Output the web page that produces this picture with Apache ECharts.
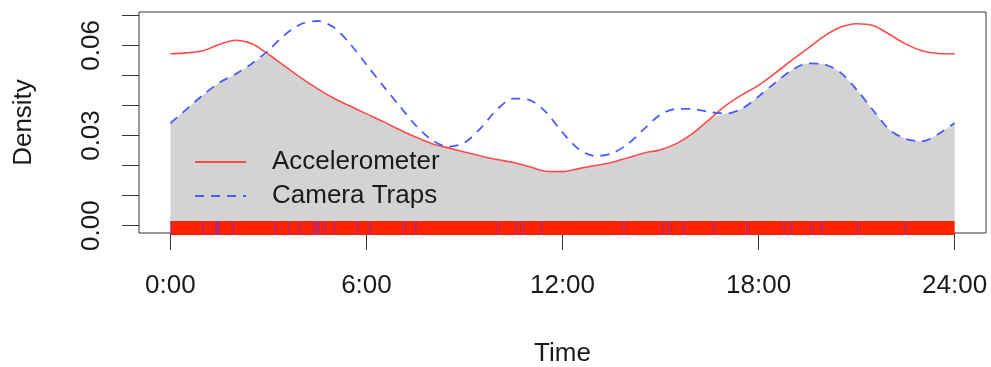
<!DOCTYPE html>
<html>
<head>
<meta charset="utf-8">
<script src="https://cdn.jsdelivr.net/npm/echarts@6/dist/echarts.min.js"></script>
<style>
html,body{margin:0;padding:0;background:#fff;}
#chart{width:991px;height:367px;}
</style>
</head>
<body>
<div id="chart"></div>
<script>
// ---- data ----
const hours = [0,0.5,1,1.5,2,2.5,3,3.5,4,4.5,5,5.5,6,6.5,7,7.5,8,8.5,9,9.5,10,10.5,11,11.5,12,12.5,13,13.5,14,14.5,15,15.5,16,16.5,17,17.5,18,18.5,19,19.5,20,20.5,21,21.5,22,22.5,23,23.5,24];
const accelerometer = [0.0572,0.0575,0.0582,0.0603,0.0617,0.0605,0.0570,0.0531,0.0492,0.0456,0.0424,0.0398,0.0372,0.0347,0.0320,0.0295,0.0273,0.0259,0.0245,0.0232,0.0220,0.0210,0.0196,0.0181,0.0180,0.0190,0.0200,0.0210,0.0226,0.0242,0.0253,0.0274,0.0308,0.0354,0.0400,0.0436,0.0467,0.0507,0.0549,0.0589,0.0630,0.0660,0.0672,0.0666,0.0637,0.0605,0.0582,0.0573,0.0572];
const cameraTraps = [0.0341,0.0388,0.0435,0.0476,0.0505,0.0540,0.0583,0.0635,0.0671,0.0681,0.0660,0.0605,0.0536,0.0467,0.0400,0.0335,0.0285,0.0263,0.0276,0.0325,0.0387,0.0423,0.0418,0.0377,0.0310,0.0254,0.0232,0.0240,0.0272,0.0322,0.0370,0.0389,0.0388,0.0378,0.0373,0.0390,0.0430,0.0475,0.0516,0.0540,0.0537,0.0510,0.0453,0.0385,0.0320,0.0289,0.0281,0.0305,0.0342];
const cameraRug = [0.02,1.00,1.39,1.43,1.49,1.90,3.22,3.63,3.96,4.39,4.47,4.54,4.70,5.03,5.73,6.10,7.14,7.51,10.03,10.59,10.77,11.36,13.88,15.07,15.28,15.71,16.63,17.64,18.78,19.00,19.63,19.95,21.04,22.49];
const accelRugRange = [0, 24];
const xTickValues = [0,6,12,18,24];
const xTickLabels = ['0:00','6:00','12:00','18:00','24:00'];
const yTickValues = [0,0.01,0.02,0.03,0.04,0.05,0.06,0.07];
const yLabelValues = [0,0.03,0.06];
const seriesNames = ['Accelerometer','Camera Traps'];

// ---- build ----
const accelData = hours.map((h,i)=>[h,accelerometer[i]]);
const camData = hours.map((h,i)=>[h,cameraTraps[i]]);
const overlapData = hours.map((h,i)=>[h,Math.min(accelerometer[i],cameraTraps[i])]);
const FONT = '"Liberation Sans", Arial, Helvetica, sans-serif';
const TXT = '#1a1a1a';

const chart = echarts.init(document.getElementById('chart'), null, {renderer:'canvas'});
chart.setOption({
  animation:false,
  backgroundColor:'#ffffff',
  textStyle:{fontFamily:FONT},
  grid:{left:139, top:12, width:847, height:221, show:true, borderColor:'#333', borderWidth:1,
    backgroundColor:'transparent', containLabel:false, outerBoundsMode:'none'},
  legend:{
    orient:'vertical', left:189, top:144, itemWidth:51, itemHeight:14, itemGap:8,
    data:seriesNames, textStyle:{fontSize:26, color:TXT, fontFamily:FONT, padding:[0,0,0,21]},
    itemStyle:{opacity:0, borderWidth:0},
    selectedMode:false
  },
  xAxis:{
    type:'value', min:-0.96, max:24.96,
    name:'Time', nameLocation:'middle', nameGap:108,
    nameTextStyle:{fontSize:26, color:TXT, fontFamily:FONT},
    axisLine:{show:false, onZero:false},
    splitLine:{show:false},
    axisTick:{show:true, length:17, inside:false, lineStyle:{color:'#333', width:1}, customValues:xTickValues},
    axisLabel:{customValues:xTickValues, margin:40, fontSize:26, color:TXT, fontFamily:FONT,
      formatter:(v)=>{const i=xTickValues.indexOf(v); return i>=0?xTickLabels[i]:'';}}
  },
  yAxis:{
    type:'value', min:-0.00243, max:0.0711,
    name:'Density', nameLocation:'middle', nameGap:102, nameRotate:90,
    nameTextStyle:{fontSize:26, color:TXT, fontFamily:FONT},
    axisLine:{show:false, onZero:false},
    splitLine:{show:false},
    axisTick:{show:true, length:17, inside:false, lineStyle:{color:'#333', width:1}, customValues:yTickValues},
    axisLabel:{customValues:yLabelValues, rotate:90, margin:34, fontSize:26, color:TXT, fontFamily:FONT,
      formatter:(v)=>v.toFixed(2)}
  },
  series:[
    {name:'overlap', type:'line', data:overlapData, smooth:0.3, symbol:'none', silent:true,
      lineStyle:{width:0, opacity:0}, areaStyle:{color:'#d3d3d3', opacity:1, origin:0}, z:1},
    {name:seriesNames[0], type:'line', data:accelData, smooth:0.3, symbol:'none',
      lineStyle:{color:'#ff4a4a', width:1.6}, itemStyle:{color:'#ff4a4a'}, z:3},
    {name:seriesNames[1], type:'line', data:camData, smooth:0.3, symbol:'none',
      lineStyle:{color:'#4a5aff', width:1.8, type:[9,7]}, itemStyle:{color:'#4a5aff'}, z:3},
    {name:'accelRug', type:'custom', clip:false, silent:true, z:4,
      data:[accelRugRange],
      renderItem:(params, api)=>{
        const a = api.coord([api.value(0), -0.00243]);
        const b = api.coord([api.value(1), -0.00243]);
        return {type:'rect', shape:{x:a[0], y:a[1]-12, width:b[0]-a[0], height:14}, style:{fill:'#ff2200'}};
      }},
    {name:'camRug', type:'custom', clip:false, silent:true, z:5,
      data:cameraRug.map(h=>[h]),
      renderItem:(params, api)=>{
        const p = api.coord([api.value(0), -0.00243]);
        return {type:'line', shape:{x1:p[0], y1:p[1]-12, x2:p[0], y2:p[1]+2}, style:{stroke:'rgba(90,50,255,0.6)', lineWidth:1.2}};
      }}
  ]
});
</script>
</body>
</html>
